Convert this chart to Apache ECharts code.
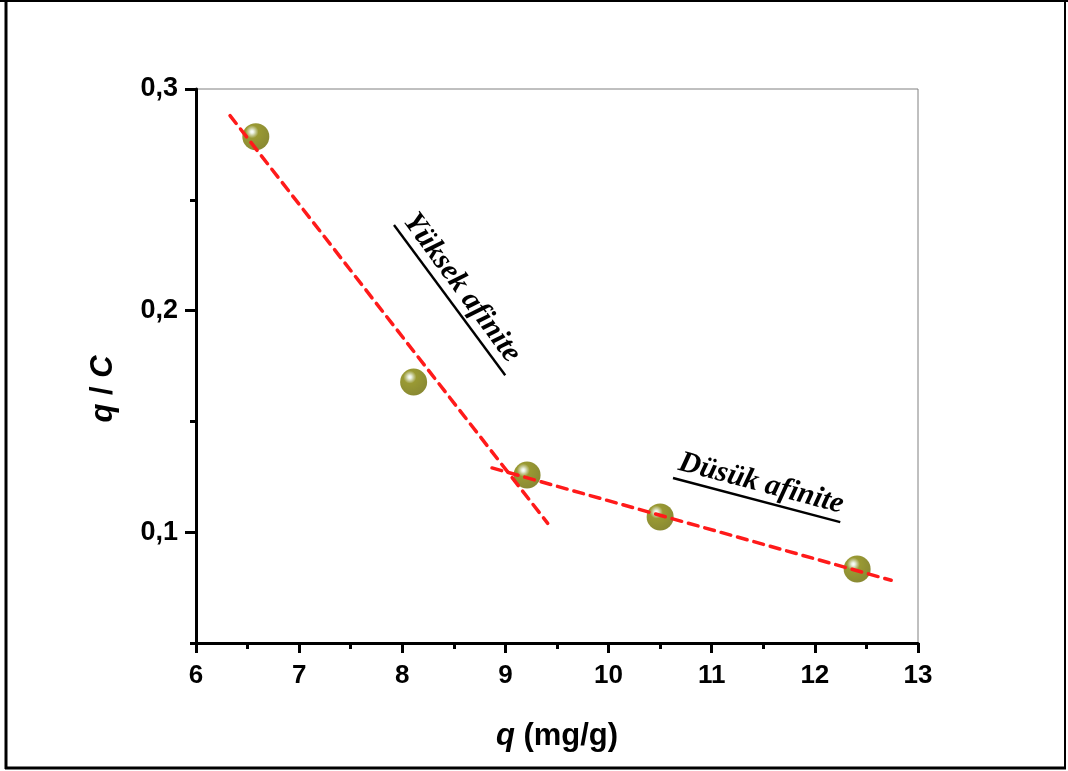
<!DOCTYPE html>
<html>
<head>
<meta charset="utf-8">
<script src="https://cdn.jsdelivr.net/npm/echarts@6/dist/echarts.min.js"></script>
<style>
html,body{margin:0;padding:0;background:#fff;}
#chart{width:1068px;height:771px;}
</style>
</head>
<body>
<div id="chart"></div>
<script>
// Data
const qValues = [6.58, 8.11, 9.21, 10.5, 12.41];
const qcValues = [0.2785, 0.1678, 0.1258, 0.1069, 0.0834];
const highFitX = [6.33, 9.41];
const highFitY = [0.288, 0.104];
const lowFitX = [8.87, 12.74];
const lowFitY = [0.129, 0.0783];
const xTicks = [6, 7, 8, 9, 10, 11, 12, 13];
const yMajorTicks = [0.1, 0.2, 0.3];
const yMinorTicks = [0.05, 0.15, 0.25];
const labelHigh = 'Yüksek afinite';
const labelLow = 'Düsük afinite';

const pts = qValues.map((x, i) => [x, qcValues[i]]);
const high = highFitX.map((x, i) => [x, highFitY[i]]);
const low = lowFitX.map((x, i) => [x, lowFitY[i]]);

const chart = echarts.init(document.getElementById('chart'));
const fontMain = 'Liberation Sans, Arial, sans-serif';
const fontSerif = 'Liberation Serif, Times New Roman, serif';

const sphere = new echarts.graphic.RadialGradient(0.36, 0.32, 0.75, [
  {offset: 0, color: '#ffffff'},
  {offset: 0.08, color: '#e6eedc'},
  {offset: 0.2, color: '#b0b46a'},
  {offset: 0.32, color: '#808000'},
  {offset: 1, color: '#6a6a00'}
]);

function annot(x, y, deg, text, len) {
  // deg: clockwise angle in degrees
  return {
    type: 'group',
    x: x, y: y,
    rotation: -deg * Math.PI / 180,
    children: [
      {type: 'text', x: 2, y: -2, style: {text: text, font: 'italic bold 30px ' + fontSerif, fill: '#000', textAlign: 'left', textVerticalAlign: 'bottom'}},
      {type: 'line', shape: {x1: 0, y1: 0, x2: len, y2: 0}, style: {stroke: '#000', lineWidth: 2.4}}
    ]
  };
}

const nameRich = {i: {fontStyle: 'italic', fontWeight: 'bold', fontSize: 31, fontFamily: fontMain, color: '#000'}};

chart.setOption({
  backgroundColor: '#fff',
  animation: false,
  grid: {left: 196, right: 150, top: 89, bottom: 128, show: true, borderColor: '#808080', borderWidth: 1},
  xAxis: {
    type: 'value', min: 6, max: 13, interval: 1,
    name: '{i|q} (mg/g)', nameLocation: 'middle', nameGap: 78,
    nameTextStyle: {rich: nameRich, fontWeight: 'bold', fontSize: 31, fontFamily: fontMain, color: '#000'},
    axisLine: {show: true, lineStyle: {color: '#000', width: 3}},
    axisTick: {show: true, inside: false, length: 10, lineStyle: {color: '#000', width: 3}},
    minorTick: {show: true, splitNumber: 2, length: 6, lineStyle: {color: '#000', width: 3}},
    axisLabel: {margin: 20, fontSize: 26, fontWeight: 'bold', fontFamily: fontMain, color: '#000'},
    splitLine: {show: false}, minorSplitLine: {show: false}
  },
  yAxis: [{
    type: 'value', min: 0.05, max: 0.3, interval: 0.05,
    name: '{i|q} / {i|C}', nameLocation: 'middle', nameGap: 77, nameRotate: 90,
    nameTextStyle: {rich: nameRich, fontWeight: 'bold', fontSize: 31, fontFamily: fontMain, color: '#000', padding: [0, 46, 0, 0]},
    axisLine: {show: true, lineStyle: {color: '#000', width: 3}},
    axisTick: {show: true, length: 11, customValues: yMajorTicks, lineStyle: {color: '#000', width: 3}},
    axisLabel: {margin: 18, customValues: yMajorTicks, fontSize: 27, fontWeight: 'bold', fontFamily: fontMain, color: '#000',
      formatter: v => v.toFixed(1).replace('.', ',')},
    splitLine: {show: false}
  }, {
    type: 'value', min: 0.05, max: 0.3, interval: 0.05, position: 'left',
    axisLine: {show: false},
    axisTick: {show: true, length: 6, customValues: yMinorTicks, lineStyle: {color: '#000', width: 3}},
    axisLabel: {show: false},
    splitLine: {show: false}
  }],
  series: [
    {type: 'scatter', data: pts, symbol: 'circle', symbolSize: 27, z: 2,
      itemStyle: {color: sphere}},
    {type: 'line', data: high, symbol: 'none', z: 3,
      lineStyle: {color: '#ff1a1a', width: 3.5, type: [10, 7], cap: 'round'}},
    {type: 'line', data: low, symbol: 'none', z: 3,
      lineStyle: {color: '#ff1a1a', width: 3.5, type: [10, 7], cap: 'round'}}
  ],
  graphic: [
    {type: 'line', shape: {x1: 6, y1: 0, x2: 6, y2: 769}, style: {stroke: '#000', lineWidth: 3}},
    {type: 'line', shape: {x1: 0, y1: 1, x2: 1068, y2: 1}, style: {stroke: '#000', lineWidth: 2}},
    {type: 'line', shape: {x1: 1065, y1: 0, x2: 1065, y2: 769}, style: {stroke: '#000', lineWidth: 2}},
    {type: 'line', shape: {x1: 5, y1: 768, x2: 1066, y2: 768}, style: {stroke: '#000', lineWidth: 3}},
    annot(394, 225, 53.5, labelHigh, 187),
    annot(673, 478, 14.8, labelLow, 173)
  ]
});
</script>
</body>
</html>
